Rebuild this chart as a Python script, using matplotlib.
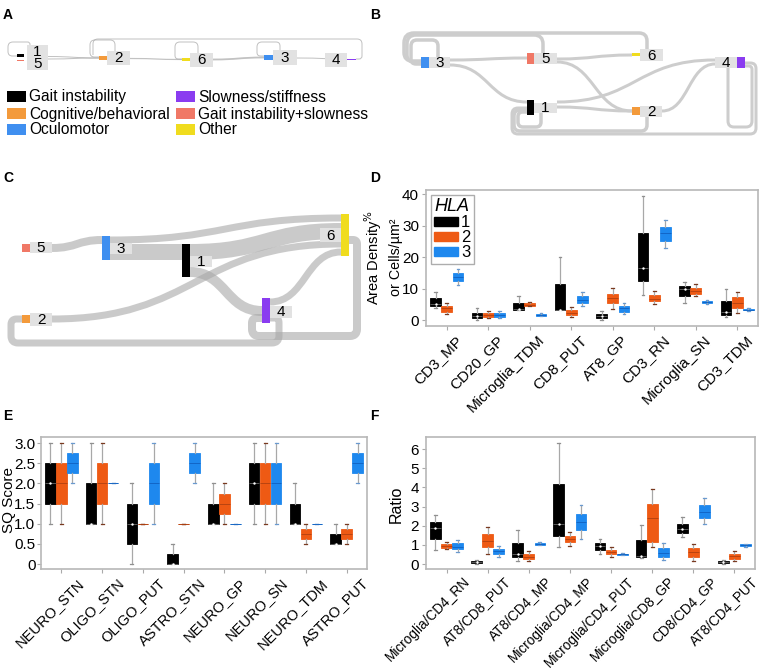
import numpy as np
import matplotlib
matplotlib.use('Agg')
import matplotlib.pyplot as plt
import matplotlib.transforms as mtransforms
from matplotlib.path import Path
from matplotlib.patches import PathPatch, Rectangle, Patch

plt.rcParams['font.family'] = ['Liberation Sans', 'DejaVu Sans']

# ---------------- data ----------------
symptom_categories = ['Gait instability', 'Cognitive/behavioral', 'Oculomotor',
                      'Slowness/stiffness', 'Gait instability+slowness', 'Other']
symptom_colors = ['#000000', '#f39a3b', '#3f8ff0', '#8a3cf0', '#f07866', '#f0dc1e']
node_names = ['1', '2', '3', '4', '5', '6']
node_symptom = [0, 1, 2, 3, 4, 5]

hla_groups = ['1', '2', '3']
hla_colors = ['#000000', '#ee5a14', '#1e88ee']

# Panel D: (whisker low, q1, median, q3, whisker high)
d_categories = ['CD3_MP', 'CD20_GP', 'Microglia_TDM', 'CD8_PUT', 'AT8_GP', 'CD3_RN',
                'Microglia_SN', 'CD3_TDM']
d_hla1 = [[3.7, 4.4, 5.1, 6.9, 8.8], [0.0, 0.7, 1.3, 2.3, 3.8], [3.2, 3.2, 3.5, 5.3, 7.5],
          [3.1, 3.1, 3.3, 11.4, 19.9], [0.0, 0.5, 1.2, 1.8, 2.9], [8.1, 12.4, 16.5, 27.8, 39.5],
          [5.4, 7.5, 9.7, 10.7, 12.2], [1.1, 1.7, 2.4, 5.9, 9.8]]
d_hla2 = [[1.9, 2.6, 3.7, 4.4, 5.3], [0.7, 1.0, 1.6, 2.1, 2.75], [4.4, 4.4, 4.9, 5.3, 5.6],
          [0.85, 1.6, 2.3, 3.2, 4.0], [3.5, 5.3, 6.9, 8.4, 10.2], [5.1, 6.1, 6.8, 8.1, 9.3],
          [7.6, 8.4, 9.2, 10.3, 11.3], [2.1, 3.9, 5.5, 7.2, 8.9]]
d_hla3 = [[11.0, 12.5, 13.8, 14.8, 16.3], [0.7, 1.1, 1.7, 2.2, 2.9], [1.3, 1.4, 1.6, 1.8, 2.1],
          [4.5, 5.5, 6.3, 7.6, 8.9], [1.8, 2.6, 3.7, 4.4, 5.3], [22.8, 25.0, 27.5, 29.4, 31.9],
          [5.1, 5.3, 5.7, 6.0, 6.3], [3.0, 3.1, 3.3, 3.6, 3.7]]

# Panel E
e_categories = ['NEURO_STN', 'OLIGO_STN', 'OLIGO_PUT', 'ASTRO_STN', 'NEURO_GP', 'NEURO_SN',
                'NEURO_TDM', 'ASTRO_PUT']
e_hla1 = [[1.0, 1.5, 2.0, 2.5, 3.0], [1.0, 1.0, 1.0, 2.0, 3.0], [0.0, 0.5, 1.0, 1.5, 2.0],
          [0.0, 0.0, 0.0, 0.25, 0.5], [1.0, 1.0, 1.0, 1.5, 2.0], [1.0, 1.5, 2.0, 2.5, 3.0],
          [1.0, 1.0, 1.0, 1.5, 2.0], [0.5, 0.5, 0.5, 0.75, 1.0]]
e_hla2 = [[1.0, 1.5, 2.0, 2.5, 3.0], [1.0, 1.5, 2.0, 2.5, 3.0], [1.0, 1.0, 1.0, 1.0, 1.0],
          [1.0, 1.0, 1.0, 1.0, 1.0], [1.0, 1.25, 1.5, 1.75, 2.0], [1.0, 1.5, 2.0, 2.5, 3.0],
          [0.5, 0.625, 0.75, 0.875, 1.0], [0.5, 0.625, 0.75, 0.875, 1.0]]
e_hla3 = [[2.0, 2.25, 2.5, 2.75, 3.0], [2.0, 2.0, 2.0, 2.0, 2.0], [1.0, 1.5, 2.0, 2.5, 3.0],
          [2.0, 2.25, 2.5, 2.75, 3.0], [1.0, 1.0, 1.0, 1.0, 1.0], [1.0, 1.5, 2.0, 2.5, 3.0],
          [1.0, 1.0, 1.0, 1.0, 1.0], [2.0, 2.25, 2.5, 2.75, 3.0]]
e_yticks = [0, 0.5, 1.0, 1.5, 2.0, 2.5, 3.0]
e_yticklabels = ['0', '0.5', '1.0', '1.5', '2.0', '2.5', '3.0']

# Panel F
f_categories = ['Microglia/CD4_RN', 'AT8/CD8_PUT', 'AT8/CD4_MP', 'Microglia/CD4_MP',
                'Microglia/CD4_PUT', 'Microglia/CD8_GP', 'CD8/CD4_GP', 'AT8/CD4_PUT']
f_hla1 = [[0.73, 1.29, 1.87, 2.18, 2.55], [0.0, 0.03, 0.09, 0.16, 0.23], [0.17, 0.35, 0.52, 1.12, 1.76],
          [0.87, 1.47, 2.09, 4.19, 6.32], [0.54, 0.72, 0.94, 1.08, 1.29], [0.3, 0.38, 0.44, 1.24, 2.04],
          [1.4, 1.62, 1.83, 2.09, 2.43], [0.0, 0.03, 0.09, 0.14, 0.19]]
f_hla2 = [[0.77, 0.84, 0.96, 1.06, 1.13], [0.5, 0.87, 1.22, 1.57, 1.95], [0.14, 0.26, 0.38, 0.52, 0.7],
          [0.94, 1.13, 1.31, 1.47, 1.68], [0.38, 0.52, 0.63, 0.72, 0.87], [0.89, 1.15, 2.39, 3.14, 3.91],
          [0.17, 0.38, 0.63, 0.84, 1.06], [0.16, 0.28, 0.42, 0.52, 0.7]]
f_hla3 = [[0.63, 0.77, 0.9, 1.08, 1.24], [0.38, 0.52, 0.66, 0.77, 0.94], [0.98, 1.01, 1.06, 1.12, 1.15],
          [1.29, 1.75, 2.2, 2.6, 3.09], [0.48, 0.49, 0.51, 0.54, 0.55], [0.19, 0.38, 0.59, 0.82, 1.08],
          [2.09, 2.41, 2.74, 3.07, 3.46], [0.91, 0.94, 0.99, 1.03, 1.06]]

# Sankey link values (source, target, width)
a_links = [('1', '2', 1.0), ('5', '2', 1.0), ('2', '6', 1.2), ('6', '3', 1.8), ('3', '4', 1.0)]
b_links = [('3', '5', 3), ('3', '1', 3), ('5', '6', 3), ('5', '2', 3), ('1', '2', 3),
           ('1', '4', 3), ('2', '4', 3)]
c_links = [('5', '3', 8), ('3', '6', 7), ('3', '1', 16), ('1', '6', 16), ('2', '6', 7),
           ('1', '4', 10), ('4', '6', 7)]

# ---------------- layout (pixels) ----------------
W, H = 760, 671
fig = plt.figure(figsize=(W / 100, H / 100), dpi=100)
PT = 0.72  # points per pixel
LINK = '#a8a8a8'
LINK_SOLID = '#cdcdcd'
LABBG = '#e2e2e2'


def px_axes(l, t, r, b):
    return fig.add_axes([l / W, 1 - b / H, (r - l) / W, (b - t) / H])


ov = fig.add_axes([0, 0, 1, 1])
ov.set_xlim(0, W)
ov.set_ylim(H, 0)
ov.axis('off')


def rounded_path(pts, r):
    verts = [pts[0]]
    codes = [Path.MOVETO]
    for i in range(1, len(pts) - 1):
        p0, p1, p2 = (np.array(pts[i - 1], float), np.array(pts[i], float),
                      np.array(pts[i + 1], float))
        d1 = p1 - p0
        l1 = np.hypot(*d1)
        d2 = p2 - p1
        l2 = np.hypot(*d2)
        rr = min(r, l1 / 2, l2 / 2)
        a = p1 - d1 / l1 * rr
        b = p1 + d2 / l2 * rr
        verts += [tuple(a), tuple(p1), tuple(b)]
        codes += [Path.LINETO, Path.CURVE3, Path.CURVE3]
    verts.append(tuple(pts[-1]))
    codes.append(Path.LINETO)
    return Path(verts, codes)


def loop(pts, w, r=6, color=LINK, alpha=0.6):
    ov.add_patch(PathPatch(rounded_path(pts, r), fill=False, lw=w * PT, edgecolor=color,
                           alpha=alpha, capstyle='butt', joinstyle='round'))


def band(x0, y0, x1, y1, w, color=LINK, alpha=0.6):
    xm = (x0 + x1) / 2
    p = Path([(x0, y0), (xm, y0), (xm, y1), (x1, y1)],
             [Path.MOVETO, Path.CURVE4, Path.CURVE4, Path.CURVE4])
    ov.add_patch(PathPatch(p, fill=False, lw=w * PT, edgecolor=color, alpha=alpha,
                           capstyle='butt'))


def node(name, box, lab, txt=None, fs=11):
    x0, y0, x1, y1 = box
    col = symptom_colors[node_symptom[node_names.index(name)]]
    ov.add_patch(Rectangle((x0, y0), x1 - x0, y1 - y0, color=col, lw=0, zorder=5))
    lx0, ly0, lx1, ly1 = lab
    ov.add_patch(Rectangle((lx0, ly0), lx1 - lx0, ly1 - ly0, color=LABBG, lw=0, zorder=4))
    ov.text((lx0 + lx1) / 2, (ly0 + ly1) / 2 + 0.5, name if txt is None else txt, ha='center',
            va='center', fontsize=fs, zorder=6, linespacing=0.85)


# panel letters
for letter, (x, y) in zip('ABCDEF', [(3, 8), (370, 8), (3, 171), (370, 171), (3, 409), (370, 409)]):
    ov.text(x, y, letter, fontsize=10, fontweight='bold', ha='left', va='top')

# ---------- Panel A ----------
a_pos = {'1': (24, 55.5), '5': (24, 60), '2': (99, 58), '6': (182, 59.5), '3': (264, 57.5),
         '4': (347, 59)}
a_out = {'1': (48, 56.5), '5': (48, 59), '2': (130, 58.5), '6': (213, 59.5), '3': (297, 58)}
for s, t, w in a_links:
    band(a_out[s][0], a_out[s][1], a_pos[t][0], a_pos[t][1], w, alpha=0.7)
loop([(17, 56), (8, 56), (8, 42), (30, 42), (30, 47)], 1.0, r=5, alpha=0.7)
loop([(99, 57), (90, 57), (90, 40), (115, 40), (115, 51)], 1.0, r=5, alpha=0.7)
loop([(356, 59), (362, 59), (362, 39), (93, 39), (93, 55)], 1.0, r=5, alpha=0.7)
loop([(182, 59), (175, 59), (175, 42), (198, 42), (198, 53)], 1.0, r=5, alpha=0.7)
loop([(264, 56), (257, 56), (257, 42), (280, 42), (280, 50)], 1.0, r=5, alpha=0.7)
node('1', (17, 54.3, 24, 57), (27, 45, 48, 70), txt='1\n5')
ov.add_patch(Rectangle((17, 59.5), 7, 1.5, color=symptom_colors[4], lw=0, zorder=5))
node('2', (99, 56, 107, 60), (107, 51, 130, 65))
node('6', (182, 58, 190, 61), (190, 53, 213, 67))
node('3', (264, 55, 273, 60), (273, 50, 297, 65))
node('4', (347, 58.5, 356, 60), (325, 53, 347, 67))

# legend of symptoms
leg_xy = [(7, 91), (7, 108), (7, 124), (176, 91), (176, 108), (176, 124)]
for (x, y), lab, col in zip(leg_xy, symptom_categories, symptom_colors):
    ov.add_patch(Rectangle((x, y), 19, 11, color=col, lw=0))
    ov.text(x + 22, y + 6, lab, fontsize=11.2, va='center', ha='left')

# ---------- Panel B ----------
b_in = {'5': (527, 58), '1': (527, 102), '6': (632, 55), '2': (632, 111), '4': (715, 62)}
b_out = {'3': (450, 62), '5': (557, 60), '1': (557, 105), '2': (662, 111)}
b_off = {('3', '5'): (-2, 0), ('3', '1'): (3, 0), ('5', '6'): (-1, 0), ('5', '2'): (2, 0),
         ('1', '2'): (2, 0), ('1', '4'): (-3, -2), ('2', '4'): (0, 2)}
for s, t, w in b_links:
    o1, o2 = b_off[(s, t)]
    band(b_out[s][0], b_out[s][1] + o1, b_in[t][0], b_in[t][1] + o2, w, color=LINK_SOLID,
         alpha=1.0)
# backward loops top
loop([(647, 49), (647, 33), (404, 33), (404, 61), (421, 61)], 3.5, r=10, color=LINK_SOLID, alpha=1)
loop([(543, 53), (543, 35), (407, 35), (407, 62), (421, 62)], 3.5, r=9, color=LINK_SOLID, alpha=1)
loop([(438, 57), (438, 40), (411, 40), (411, 64), (421, 64)], 3.5, r=6, color=LINK_SOLID, alpha=1)
# bottom loops
loop([(745, 63), (756, 63), (756, 134), (512, 134), (512, 108), (527, 108)], 3, r=6,
     color=LINK_SOLID, alpha=1)
loop([(647, 117), (647, 131), (514, 131), (514, 110), (527, 110)], 3.5, r=6, color=LINK_SOLID,
     alpha=1)
loop([(541, 113), (541, 127), (518, 127), (518, 112), (527, 112)], 3.5, r=5, color=LINK_SOLID,
     alpha=1)
loop([(745, 66), (752, 66), (752, 127), (728, 127), (728, 68)], 3, r=6, color=LINK_SOLID, alpha=1)
node('3', (421, 57, 429, 68), (429, 57, 450, 68))
node('5', (527, 53, 534, 64), (534, 53, 557, 64))
node('6', (632, 53, 640, 56), (640, 49, 663, 61))
node('4', (737, 57, 745, 68), (715, 57, 737, 68))
node('1', (527, 100, 534, 115), (534, 103, 557, 113))
node('2', (632, 107, 640, 115), (640, 106, 662, 117))

# ---------- Panel C ----------
c_geo = {('5', '3'): ((52, 248), (102, 240)), ('3', '6'): ((110, 240), (341, 218)),
         ('3', '1'): ((110, 252), (182, 252)), ('1', '6'): ((190, 252), (341, 231)),
         ('2', '6'): ((52, 319), (341, 244)), ('1', '4'): ((190, 272), (262, 311)),
         ('4', '6'): ((270, 302), (341, 252))}
for s, t, w in c_links:
    (x0, y0), (x1, y1) = c_geo[(s, t)]
    band(x0, y0, x1, y1, w)
loop([(349, 240), (357, 240), (357, 336), (252, 336), (252, 318), (262, 318)], 8, r=7)
loop([(270, 318), (279, 318), (279, 343), (11, 343), (11, 319), (22, 319)], 7, r=7)
node('5', (22, 244, 30, 252), (30, 242, 52, 253))
node('3', (102, 236, 110, 260), (110, 243, 132, 254))
node('1', (182, 244, 190, 277), (190, 256, 212, 267))
node('6', (341, 214, 349, 256), (320, 228, 341, 242))
node('4', (262, 298, 270, 323), (270, 306, 292, 318))
node('2', (22, 315, 30, 323), (30, 313, 52, 326))


# ---------------- box plots ----------------
def style_axes(ax, cats, dx, fs, pad=2):
    for sp in ax.spines.values():
        sp.set_color('#b8b8b8')
        sp.set_linewidth(1.2)
    ax.set_xlim(-0.5, 7.5)
    ax.tick_params(axis='both', length=3, color='#aaaaaa', labelsize=11, pad=2)
    ax.tick_params(axis='x', pad=pad)
    ax.set_xticks(np.arange(len(cats)))
    ax.set_xticklabels(cats, rotation=45, ha='right', va='top', rotation_mode='anchor',
                       fontsize=fs)
    off = mtransforms.ScaledTranslation(dx / 100, 0, fig.dpi_scale_trans)
    for lab in ax.get_xticklabels():
        lab.set_transform(lab.get_transform() + off)


def draw_boxes(ax, groups):
    offs = [-0.27, 0.0, 0.27]
    capcols = ['#909090', '#7a3a20', '#6a9ad0']
    medcols = ['#666666', '#b04010', '#1060c0']
    for gi, stats in enumerate(groups):
        col = hla_colors[gi]
        pos = np.arange(len(stats)) + offs[gi]
        bst = [dict(whislo=s[0], q1=s[1], med=s[2], q3=s[3], whishi=s[4]) for s in stats]
        ax.bxp(bst, positions=pos, widths=0.26, patch_artist=True, showfliers=False,
               manage_ticks=False, capwidths=0.07,
               boxprops=dict(facecolor=col, edgecolor=col, lw=0.6),
               whiskerprops=dict(color='#a8a8a8', lw=0.9),
               capprops=dict(color=capcols[gi], lw=0.9),
               medianprops=dict(color=medcols[gi], lw=0.6))
        if gi == 0:
            ax.scatter(pos, [s[2] for s in stats], s=3, c='white', zorder=5, lw=0)


# Panel D
axd = px_axes(426, 190, 758, 326)
draw_boxes(axd, [d_hla1, d_hla2, d_hla3])
axd.set_ylim(-1.9, 41.3)
axd.set_yticks([0, 10, 20, 30, 40])
style_axes(axd, d_categories, 8, 11)
leg = axd.legend(handles=[Patch(facecolor=c, edgecolor=c) for c in hla_colors], labels=hla_groups,
                 title='HLA', loc='upper left', fontsize=12, frameon=True, fancybox=False,
                 edgecolor='#999999', handlelength=1.4, handleheight=0.5, labelspacing=0.0,
                 handletextpad=0.2, borderpad=0.2, borderaxespad=0.3,
                 title_fontproperties={'style': 'italic', 'size': 13})
leg.get_frame().set_linewidth(1.0)
leg._legend_box.align = 'left'
ov.text(384, 257, 'Area Density$^{\\%}$', rotation=90, ha='right', va='center', fontsize=10.5)
ov.text(403, 257, 'or Cells/µm²', rotation=90, ha='right', va='center', fontsize=10.3)

# Panel E
axe = px_axes(41, 437, 367, 569)
draw_boxes(axe, [e_hla1, e_hla2, e_hla3])
axe.set_ylim(-0.12, 3.15)
axe.set_yticks(e_yticks)
axe.set_yticklabels(e_yticklabels)
style_axes(axe, e_categories, 15, 10.5)
axe.tick_params(axis='y', pad=1)
ov.text(9, 500, 'SQ Score', rotation=90, ha='center', va='center', fontsize=11)

# Panel F
axf = px_axes(426, 437, 755, 569)
draw_boxes(axf, [f_hla1, f_hla2, f_hla3])
axf.set_ylim(-0.26, 6.63)
axf.set_yticks([0, 1, 2, 3, 4, 5, 6])
style_axes(axf, f_categories, 16, 9.8, pad=1)
ov.text(396, 504, 'Ratio', rotation=90, ha='center', va='center', fontsize=11.5)

fig.savefig('out.png', dpi=100)
